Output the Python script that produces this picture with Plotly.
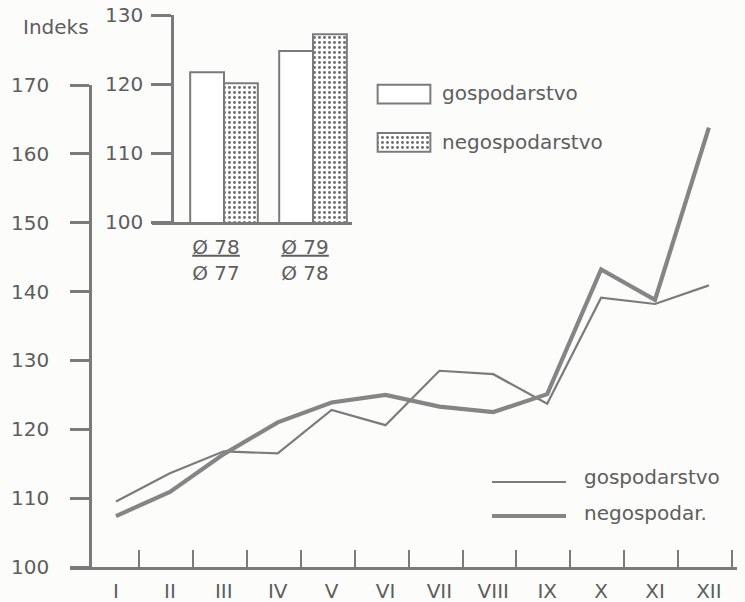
import plotly.graph_objects as go

W, H = 745, 602
def px(x): return x / W
def py(y): return 1 - y / H

# ---- data ----
months = ["I", "II", "III", "IV", "V", "VI", "VII", "VIII", "IX", "X", "XI", "XII"]
gospodarstvo = [109.5, 113.6, 116.8, 116.5, 122.8, 120.6, 128.5, 128.0, 123.7, 139.1, 138.2, 140.9]
negospodarstvo = [107.4, 110.9, 116.4, 121.0, 123.9, 125.0, 123.3, 122.5, 125.1, 143.2, 138.8, 163.8]

bar_cats = ["<u>Ø 78</u><br>Ø 77", "<u>Ø 79</u><br>Ø 78"]
bar_gosp = [121.7, 124.8]
bar_negosp = [120.1, 127.2]

main_yticks = [100, 110, 120, 130, 140, 150, 160, 170]
inset_yticks = [100, 110, 120, 130]

INK = "#7b7b7b"
TXT = "#5e5e5e"
FONT = "DejaVu Sans"

x_idx = list(range(1, len(months) + 1))

DOTS = dict(shape=".", fgcolor="#707070", bgcolor="white", size=5, solidity=0.28, fillmode="replace")

fig = go.Figure()

# main lines
fig.add_trace(go.Scatter(x=x_idx, y=gospodarstvo, mode="lines",
                         line=dict(color=INK, width=2.2), xaxis="x", yaxis="y",
                         showlegend=False))
fig.add_trace(go.Scatter(x=x_idx, y=negospodarstvo, mode="lines",
                         line=dict(color="#858585", width=4.2), xaxis="x", yaxis="y",
                         showlegend=False))

# inset bars
fig.add_trace(go.Bar(x=[0, 1], y=bar_gosp, xaxis="x2", yaxis="y2",
                     marker=dict(color="white", line=dict(color=INK, width=2)),
                     showlegend=False))
fig.add_trace(go.Bar(x=[0, 1], y=bar_negosp, xaxis="x2", yaxis="y2",
                     marker=dict(color="white", line=dict(color=INK, width=2), pattern=DOTS),
                     showlegend=False))

# inset legend keys
fig.add_trace(go.Bar(x=[1], y=[0], orientation="h", xaxis="x3", yaxis="y3", width=0.385,
                     marker=dict(color="white", line=dict(color=INK, width=2)),
                     showlegend=False, hoverinfo="skip"))
fig.add_trace(go.Bar(x=[1], y=[1], orientation="h", xaxis="x3", yaxis="y3", width=0.385,
                     marker=dict(color="white", line=dict(color=INK, width=2), pattern=DOTS),
                     showlegend=False, hoverinfo="skip"))

s = 53.9
def xv(p): return 1 + (p - 116) / s

fig.update_layout(
    width=W, height=H,
    margin=dict(l=0, r=0, t=0, b=0, pad=0, autoexpand=False),
    paper_bgcolor="#fcfcfa", plot_bgcolor="rgba(0,0,0,0)",
    font=dict(family=FONT, color=TXT, size=20),
    showlegend=False,
    barmode="group", bargap=0.24, bargroupgap=0,
    xaxis=dict(domain=[px(70), px(737)], range=[xv(70), xv(737)], anchor="y", automargin=False,
               showline=True, linecolor=INK, linewidth=2.5, showgrid=False, zeroline=False,
               tickmode="array", tickvals=x_idx, ticktext=months, ticks="",
               tickfont=dict(size=20), ticklabelstandoff=4,
               minor=dict(tickmode="array", tickvals=[v + 0.43 for v in x_idx],
                          ticks="inside", ticklen=17, tickwidth=2.2, tickcolor=INK)),
    yaxis=dict(domain=[py(567), py(85)], range=[100, 170], anchor="free", position=px(90),
               automargin=False,
               showline=True, linecolor=INK, linewidth=2.5, showgrid=False, zeroline=False,
               tickmode="array", tickvals=main_yticks, ticks="outside", ticklen=19,
               tickwidth=2.5, tickcolor=INK, ticklabelstandoff=17),
    xaxis2=dict(domain=[px(152), px(352)], range=[-0.809, 1.438], anchor="y2", automargin=False,
                showline=True, linecolor=INK, linewidth=2.5, showgrid=False, zeroline=False,
                tickmode="array", tickvals=[0, 1], ticktext=bar_cats, ticks="",
                tickfont=dict(size=20), ticklabelshift=-8, ticklabelstandoff=5),
    yaxis2=dict(domain=[py(222), py(15)], range=[100, 130], anchor="free", position=px(172),
                automargin=False,
                showline=True, linecolor=INK, linewidth=2.5, showgrid=False, zeroline=False,
                tickmode="array", tickvals=inset_yticks, ticks="outside", ticklen=20,
                tickwidth=2.5, tickcolor=INK, ticklabelstandoff=4),
    xaxis3=dict(domain=[px(375), px(433)], range=[-0.05, 1.05], anchor="y3",
                visible=False, fixedrange=True, automargin=False),
    yaxis3=dict(domain=[py(166.5), py(70)], range=[1.5, -0.5], anchor="x3",
                visible=False, fixedrange=True, automargin=False),
)

# legend texts and keys
fig.add_annotation(x=px(440), y=py(93), xref="paper", yref="paper", xanchor="left",
                   yanchor="middle", text="gospodarstvo", showarrow=False, font=dict(size=20))
fig.add_annotation(x=px(440), y=py(142), xref="paper", yref="paper", xanchor="left",
                   yanchor="middle", text="negospodarstvo", showarrow=False, font=dict(size=20))
fig.add_annotation(x=px(582), y=py(477), xref="paper", yref="paper", xanchor="left",
                   yanchor="middle", text="gospodarstvo", showarrow=False, font=dict(size=20))
fig.add_annotation(x=px(582), y=py(513), xref="paper", yref="paper", xanchor="left",
                   yanchor="middle", text="negospodar.", showarrow=False, font=dict(size=20))
fig.add_annotation(x=px(56), y=py(27), xref="paper", yref="paper", xanchor="center",
                   yanchor="middle", text="Indeks", showarrow=False, font=dict(size=20))

fig.add_shape(type="line", xref="paper", yref="paper", x0=px(492), x1=px(566),
              y0=py(482), y1=py(482), line=dict(color=INK, width=2.2))
fig.add_shape(type="line", xref="paper", yref="paper", x0=px(492), x1=px(566),
              y0=py(516), y1=py(516), line=dict(color="#858585", width=4.2))

fig.write_html("out.html", config={"displayModeBar": False},
               post_script="document.body.style.margin='0';document.body.style.overflow='hidden';")
